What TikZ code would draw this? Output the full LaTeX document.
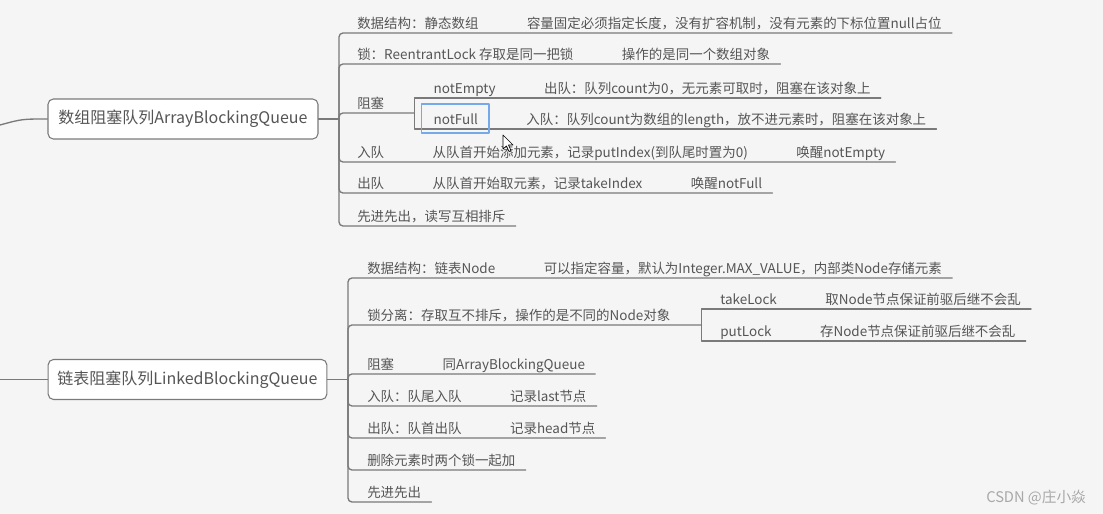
\documentclass[tikz,border=0pt]{standalone}
\usepackage{fontspec}
\newfontfamily\cjk{Noto Sans CJK SC}
\usetikzlibrary{positioning}
\definecolor{bggray}{HTML}{F5F5F5}
\definecolor{linegray}{HTML}{7A7A7A}
\definecolor{txtgray}{HTML}{555555}
\definecolor{selblue}{HTML}{74AAEA}
\definecolor{markgray}{HTML}{A8A8A8}
\begin{document}
\begin{tikzpicture}[x=0.75pt,y=-0.75pt,line join=round,line cap=round,
	txt/.style={anchor=base west,inner sep=0pt,font=\cjk\fontsize{10.1}{12}\selectfont,text=txtgray},
	nx/.style={txt,base right=36pt of #1},
	root/.style={draw=linegray,fill=white,rounded corners=4pt,line width=0.8pt,minimum height=30pt,inner sep=0pt,font=\cjk\fontsize{12}{14}\selectfont,text=txtgray},
	ln/.style={draw=linegray,line width=1pt},
	brl/.style={ln,rounded corners=3pt}]
	\fill[bggray] (0,0) rectangle (1103,514);
	\useasboundingbox (0,0) rectangle (1103,514);
	% ArrayBlockingQueue
	\node[root,minimum width=202.5pt] (abq) at (183,119) {数组阻塞队列ArrayBlockingQueue};
	\coordinate (abqin) at (0,125);
	\coordinate (abqj) at (339,119);
	\draw[ln] (abqin) .. controls (22,119) .. (abq.west);
	\draw[ln] (abq.east) -- (abqj);
	\node[txt] (a1) at (357,28.5) {数据结构：静态数组};
	\node[nx=a1] (a1c) {容量固定必须指定长度，没有扩容机制，没有元素的下标位置null占位};
	\node[txt] (a2) at (357,59.5) {锁：ReentrantLock 存取是同一把锁};
	\node[nx=a2] (a2c) {操作的是同一个数组对象};
	\node[txt] (a3) at (357,108.5) {阻塞};
	\coordinate (a3j) at ([shift={(30,4.5)}]a3.base east);
	\node[txt] (a31) at ([shift={(19,-19.5)}]a3j) {notEmpty};
	\node[nx=a31] (a31c) {出队：队列count为0，无元素可取时，阻塞在该对象上};
	\node[txt] (a32) at ([shift={(19,11.5)}]a3j) {notFull};
	\node[nx=a32] (a32c) {入队：队列count为数组的length，放不进元素时，阻塞在该对象上};
	\node[txt] (a4) at (357,157.5) {入队};
	\node[nx=a4] (a4c) {从队首开始添加元素，记录putIndex(到队尾时置为0)};
	\node[nx=a4c] (a4cc) {唤醒notEmpty};
	\node[txt] (a5) at (357,188.5) {出队};
	\node[nx=a5] (a5c) {从队首开始取元素，记录takeIndex};
	\node[nx=a5c] (a5cc) {唤醒notFull};
	\node[txt] (a6) at (357,221.5) {先进先出，读写互相排斥};
	\foreach \e in {a1c,a2c,a4cc,a5cc,a6}
		\draw[brl] (abqj) |- ([shift={(10,4.5)}]\e.base east);
	\draw[brl] (abqj) |- (a3j);
	\foreach \e in {a31c,a32c}
		\draw[ln] (a3j) |- ([shift={(10,4.5)}]\e.base east);
	% selection and mouse pointer
	\draw[selblue,line width=1.2pt] ([shift={(-12,-20.5)}]a32.base west) rectangle ([shift={(11,8.5)}]a32.base east);
	\draw[black,fill=white,line width=0.5pt] (503,135) -- (503,149) -- (506.5,146) -- (509,151.5) -- (511,150.5) -- (508.5,145) -- (513,145) -- cycle;
	% LinkedBlockingQueue
	\node[root,minimum width=209pt] (lbq) at (187.5,379.5) {链表阻塞队列LinkedBlockingQueue};
	\coordinate (lbqin) at (0,379.5);
	\coordinate (lbqj) at (348,379.5);
	\draw[ln] (lbqin) -- (lbq.west);
	\draw[ln] (lbq.east) -- (lbqj);
	\node[txt] (b1) at (367,273.5) {数据结构：链表Node};
	\node[nx=b1] (b1c) {可以指定容量，默认为Integer.MAX\_VALUE，内部类Node存储元素};
	\node[txt] (b2) at (367,320.5) {锁分离：存取互不排斥，操作的是不同的Node对象};
	\coordinate (b2j) at ([shift={(31,4.5)}]b2.base east);
	\node[txt] (b21) at ([shift={(18.5,-20.5)}]b2j) {takeLock};
	\node[nx=b21] (b21c) {取Node节点保证前驱后继不会乱};
	\node[txt] (b22) at ([shift={(18.5,11.5)}]b2j) {putLock};
	\node[nx=b22] (b22c) {存Node节点保证前驱后继不会乱};
	\node[txt] (b3) at (367,369.5) {阻塞};
	\node[nx=b3] (b3c) {同ArrayBlockingQueue};
	\node[txt] (b4) at (367,401.5) {入队：队尾入队};
	\node[nx=b4] (b4c) {记录last节点};
	\node[txt] (b5) at (367,433.5) {出队：队首出队};
	\node[nx=b5] (b5c) {记录head节点};
	\node[txt] (b6) at (367,465.5) {删除元素时两个锁一起加};
	\node[txt] (b7) at (367,497.5) {先进先出};
	\foreach \e in {b1c,b3c,b4c,b5c,b6,b7}
		\draw[brl] (lbqj) |- ([shift={(10,4.5)}]\e.base east);
	\draw[brl] (lbqj) |- (b2j);
	\foreach \e in {b21c,b22c}
		\draw[ln] (b2j) |- ([shift={(10,4.5)}]\e.base east);
	\node[anchor=base west,inner sep=0pt,font=\cjk\fontsize{11}{13}\selectfont,text=markgray] (mark) at (986,502) {CSDN @庄小焱};
\end{tikzpicture}
\end{document}
